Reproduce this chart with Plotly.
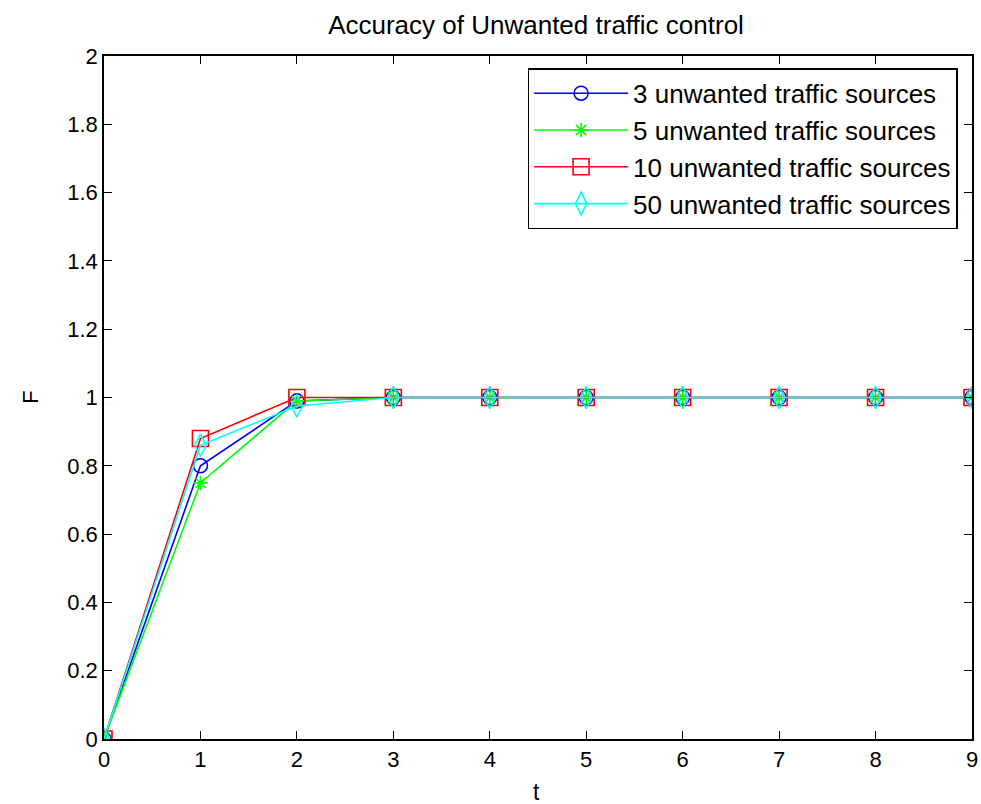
import plotly.graph_objects as go

t = [0, 1, 2, 3, 4, 5, 6, 7, 8, 9]
s3 = [0, 0.80, 0.99, 1, 1, 1, 1, 1, 1, 1]
s5 = [0, 0.75, 0.99, 1, 1, 1, 1, 1, 1, 1]
s10 = [0, 0.88, 1.0, 1, 1, 1, 1, 1, 1, 1]
s50 = [0, 0.86, 0.975, 1, 1, 1, 1, 1, 1, 1]
names = ["3 unwanted traffic sources", "5 unwanted traffic sources",
         "10 unwanted traffic sources", "50 unwanted traffic sources"]
yticks = [0, 0.2, 0.4, 0.6, 0.8, 1, 1.2, 1.4, 1.6, 1.8, 2]
ytick_text = ["0", "0.2", "0.4", "0.6", "0.8", "1", "1.2", "1.4", "1.6", "1.8", "2"]

series = [s3, s5, s10, s50]
colors = ["#0000ff", "#00ff00", "#ff0000", "#00ffff"]
symbols = ["circle-open", "asterisk-open", "square-open", "diamond-tall-open"]
sizes = [14, 12, 16, 16]

fig = go.Figure()
for i, (ys, nm, c, sym, sz) in enumerate(zip(series, names, colors, symbols, sizes)):
    fig.add_trace(go.Scatter(x=t, y=ys, name=nm, mode="lines+markers", legendgroup=f"g{i}",
                             line=dict(color=c, width=1.6),
                             marker=dict(symbol=sym, size=sz, color=c,
                                         line=dict(color=c, width=1.6))))

font = "Liberation Sans, Arial, sans-serif"
fig.update_layout(
    width=981, height=804,
    margin=dict(l=104, r=9, t=56, b=65),
    paper_bgcolor="white", plot_bgcolor="white",
    title=dict(text="Accuracy of Unwanted traffic control", x=0.5464, xanchor="center",
               y=0.969, yanchor="middle", font=dict(family=font, size=26, color="black")),
    font=dict(family=font, color="black"),
    showlegend=True,
    legend=dict(x=0.488, y=0.982, xanchor="left", yanchor="top",
                bgcolor="white", bordercolor="black", borderwidth=1.5,
                font=dict(family=font, size=26, color="black"),
                tracegroupgap=0, itemwidth=94),
    annotations=[
        dict(text="t", x=0.498, y=-0.077, xref="paper", yref="paper", showarrow=False,
             xanchor="center", yanchor="middle",
             font=dict(family=font, size=23, color="black")),
        dict(text="F", x=-0.085, y=0.5, xref="paper", yref="paper", showarrow=False,
             textangle=-90, xanchor="center", yanchor="middle",
             font=dict(family=font, size=22, color="black")),
    ],
)
fig.update_xaxes(range=[0, 9], tickmode="array", tickvals=t, automargin=False,
                 ticklabeloverflow="allow",
                 ticks="inside", ticklen=8, tickcolor="black", mirror="ticks",
                 showline=True, linecolor="black", linewidth=1.5, showgrid=False,
                 zeroline=False, tickfont=dict(family=font, size=22, color="black"))
fig.update_yaxes(range=[0, 2], tickmode="array", tickvals=yticks, ticktext=ytick_text,
                 automargin=False,
                 ticks="inside", ticklen=8, tickcolor="black", mirror="ticks",
                 showline=True, linecolor="black", linewidth=1.5, showgrid=False,
                 zeroline=False, tickfont=dict(family=font, size=22, color="black"))

# remove the browser's default 8px body margin so the figure fills the window exactly
fig.write_html("out.html", config={"displayModeBar": False},
               post_script="document.body.style.margin='0';document.body.style.overflow='hidden';")
